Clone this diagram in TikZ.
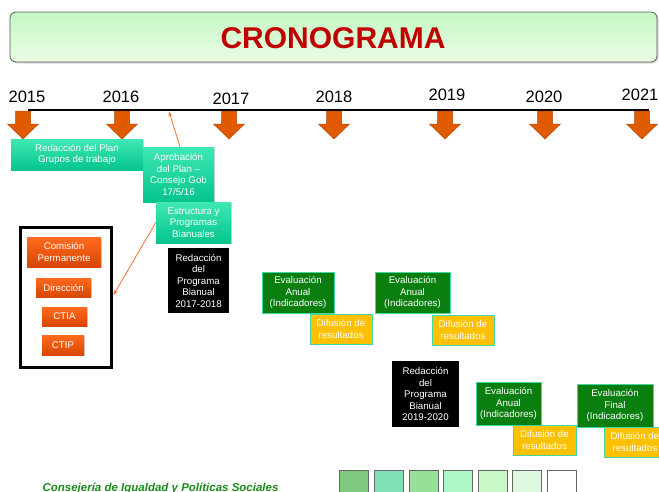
\documentclass[tikz,border=0pt]{standalone}
\usepackage{fontspec}
\setmainfont{Liberation Sans}
\usetikzlibrary{arrows.meta,shadows,calc}
\definecolor{titred}{HTML}{C00000}
\definecolor{tealtop}{HTML}{3FE8B5}
\definecolor{tealbot}{HTML}{05C48C}
\definecolor{orgtop}{HTML}{FF6A1E}
\definecolor{orgbot}{HTML}{D84600}
\definecolor{evgreen}{HTML}{0A7F10}
\definecolor{evborder}{HTML}{40D8A0}
\definecolor{difyel}{HTML}{FFC000}
\definecolor{arrfill}{HTML}{E05A00}
\definecolor{arrdraw}{HTML}{B84400}
\definecolor{connor}{HTML}{F07030}
\definecolor{footgreen}{HTML}{1A8A1A}
\definecolor{ttop}{HTML}{C4F8C4}
\definecolor{tbot}{HTML}{EAFCE4}
\begin{document}
\begin{tikzpicture}[x=1pt,y=-1pt,
  box/.style={inner sep=0pt,align=center,text=white,font=\fontsize{9.7}{11.5}\selectfont},
  tealbox/.style={box,top color=tealtop,bottom color=tealbot,draw=none,
    drop shadow={shadow xshift=1pt,shadow yshift=-1.2pt,opacity=.35}},
  orgbox/.style={box,top color=orgtop,bottom color=orgbot,draw=none,
    drop shadow={shadow xshift=1pt,shadow yshift=-1.2pt,opacity=.35}},
  evbox/.style={box,fill=evgreen,draw=evborder,line width=0.8pt},
  difbox/.style={box,fill=difyel,draw=evborder,line width=0.8pt},
  blkbox/.style={box,fill=black,draw=none},
  yearlbl/.style={font=\fontsize{16.5}{18}\selectfont,inner sep=0pt},
  conn/.style={draw=connor,line width=0.8pt,-{Stealth[length=5pt,width=4pt]}},
  colsq/.style={draw=gray!80!black,line width=0.6pt,minimum width=29pt,minimum height=24pt,inner sep=0pt,anchor=north west},
  yeararrow/.pic={\filldraw[fill=arrfill,draw=arrdraw,line width=0.5pt]
    (-7.5,0) -- (-7.5,13) -- (-15.5,13) -- (0,28) -- (15.5,13) -- (7.5,13) -- (7.5,0) -- cycle;}
]
\useasboundingbox (0,0) rectangle (659,491);
% title
\node[draw=gray!70!black,line width=0.8pt,rounded corners=6pt,top color=ttop,bottom color=tbot,
  minimum width=647pt,minimum height=50pt,inner sep=0pt,
  drop shadow={shadow xshift=1.5pt,shadow yshift=-1.5pt,opacity=.3}] (title) at (333.5,37) {};
\node[text=titred,font=\bfseries\fontsize{30}{32}\selectfont,inner sep=0pt] (titletxt) at (333,38) {CRONOGRAMA};
% timeline
\coordinate (tl0) at (28,110);
\coordinate (tl1) at (649,110);
\draw[line width=2pt] (tl0) -- (tl1);
\node[yearlbl] (y15) at (27,97) {2015};
\node[yearlbl] (y16) at (121,97) {2016};
\node[yearlbl] (y17) at (231,99) {2017};
\node[yearlbl] (y18) at (334,97) {2018};
\node[yearlbl] (y19) at (447,95) {2019};
\node[yearlbl] (y20) at (544,97) {2020};
\node[yearlbl] (y21) at (640,95) {2021};
\foreach \xx in {23,122,229,334,445,545,642} \pic at (\xx,111) {yeararrow};
% teal boxes
\node[tealbox,minimum width=132pt,minimum height=31pt] (plan) at (77,154.5) {Redacción del Plan\\Grupos de trabajo};
\node[tealbox,minimum width=71pt,minimum height=55pt] (aprob) at (178.5,174.5) {Aprobación\\del Plan –\\Consejo Gob\\17/5/16};
\node[tealbox,minimum width=75pt,minimum height=41pt] (estr) at (193.5,222.5) {Estructura y\\Programas\\Bianuales};
\node[blkbox,minimum width=61pt,minimum height=65pt] (blk1) at (198.5,280.5) {Redacción\\del\\Programa\\Bianual\\2017-2018};
% frame with organs
\node[draw=black,line width=3pt,minimum width=91pt,minimum height=140pt,inner sep=0pt,
  drop shadow={shadow xshift=1pt,shadow yshift=-1pt,opacity=.3},fill=white] (frame) at (65.5,297) {};
\node[orgbox,minimum width=74pt,minimum height=30pt] (com) at (64,252) {Comisión\\Permanente};
\node[orgbox,minimum width=55pt,minimum height=19pt] (dir) at (63.5,287.5) {Dirección};
\node[orgbox,minimum width=45pt,minimum height=19pt] (ctia) at (64.5,316.5) {CTIA};
\node[orgbox,minimum width=42pt,minimum height=20pt] (ctip) at (63,345) {CTIP};
% connectors
\coordinate (apt) at (169,111.5);
\draw[conn] ($(aprob.north)+(1.5,0)$) -- (apt);
\draw[conn] (estr.west) -- ($(frame.east)+(1,-2)$);
% evaluations
\node[evbox,minimum width=72pt,minimum height=41pt] (ev1) at (298,292.5) {Evaluación\\Anual\\(Indicadores)};
\node[difbox,minimum width=62pt,minimum height=30pt] (dif1) at (341,329) {Difusión de\\resultados};
\node[evbox,minimum width=75pt,minimum height=41pt] (ev2) at (412.5,292.5) {Evaluación\\Anual\\(Indicadores)};
\node[difbox,minimum width=62pt,minimum height=30pt] (dif2) at (463,330) {Difusión de\\resultados};
\node[blkbox,minimum width=67pt,minimum height=66pt] (blk2) at (425.5,394) {Redacción\\del\\Programa\\Bianual\\2019-2020};
\node[evbox,minimum width=65pt,minimum height=43pt] (ev3) at (508.5,403.5) {Evaluación\\Anual\\(Indicadores)};
\node[difbox,minimum width=63pt,minimum height=30pt] (dif3) at (544.5,440) {Difusión de\\resultados};
\node[evbox,minimum width=76pt,minimum height=43pt] (evf) at (615,405.5) {Evaluación\\Final\\(Indicadores)};
\node[difbox,minimum width=62pt,minimum height=30pt] (dif4) at (635,442) {Difusión de\\resultados};
% colour squares
\node[colsq,fill={rgb,255:red,128;green,200;blue,128}] (sq1) at (339,470) {};
\node[colsq,fill={rgb,255:red,128;green,224;blue,184}] (sq2) at (374,470) {};
\node[colsq,fill={rgb,255:red,152;green,224;blue,152}] (sq3) at (409,470) {};
\node[colsq,fill={rgb,255:red,176;green,248;blue,200}] (sq4) at (443,470) {};
\node[colsq,fill={rgb,255:red,200;green,248;blue,200}] (sq5) at (478,470) {};
\node[colsq,fill={rgb,255:red,224;green,248;blue,224}] (sq6) at (512,470) {};
\node[colsq,fill=white] (sq7) at (547,470) {};
% footer
\node[anchor=base,inner sep=0pt,text=footgreen,font=\bfseries\itshape\fontsize{11.5}{13}\selectfont] (foot) at (160.5,491) {Consejería de Igualdad y Políticas Sociales};
\end{tikzpicture}
\end{document}
